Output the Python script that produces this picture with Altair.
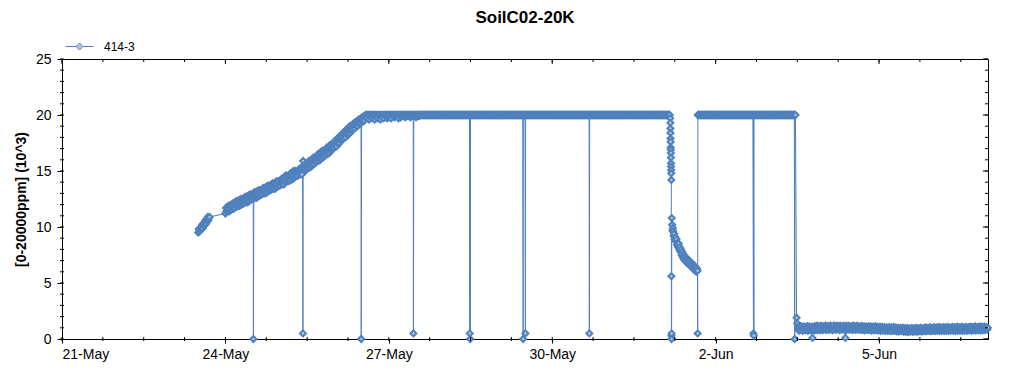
import altair as alt
import pandas as pd

# ---------------- data ----------------
SERIES = "414-3"
STEP = "15min"

# 23-May cluster, 15-min samples from 12:00
A_START = "2023-05-23 12:00"
A_VALUES = [9.5, 9.8, 9.6, 9.9, 9.7, 10.0, 9.8, 10.2, 9.9, 10.3, 10.1, 10.4, 10.2, 10.6,
            10.3, 10.7, 10.5, 10.9, 10.6, 10.8, 10.9]

# rising part, 15-min samples from 24-May 00:00
B_START = "2023-05-24 00:00"
B_VALUES = [
    11.2, 11.7, 11.4, 11.8, 11.4, 11.7, 11.9, 11.4,
    11.9, 11.5, 12.0, 11.6, 11.8, 12.1, 11.6, 12.0,
    11.7, 12.2, 11.9, 12.3, 11.8, 12.1, 12.3, 11.9,
    12.4, 11.9, 12.2, 12.5, 12.0, 12.4, 12.1, 12.5,
    12.1, 12.6, 12.3, 12.7, 12.2, 12.5, 12.7, 12.2,
    12.8, 12.3, 12.6, 12.9, 12.4, 12.8, 12.5, 12.9,
    12.5, 13.0, 12.7, 13.1, 12.6, 12.9, 13.1, 12.6,
    13.2, 12.7, 13.0, 13.3, 12.8, 13.2, 12.9, 13.3,
    12.9, 13.4, 13.1, 13.5, 13.0, 13.3, 13.5, 13.0,
    13.6, 13.1, 13.4, 13.7, 13.2, 13.6, 13.3, 13.7,
    13.3, 13.8, 13.5, 13.9, 13.4, 13.7, 13.9, 13.4,
    14.0, 13.5, 13.8, 14.1, 13.6, 14.0, 13.7, 14.1,
    13.7, 14.2, 13.9, 14.3, 13.8, 14.1, 14.3, 13.8,
    14.5, 14.0, 14.3, 14.6, 14.1, 14.5, 14.2, 14.6,
    14.1, 14.6, 14.3, 14.8, 14.2, 14.6, 14.8, 14.3,
    15.0, 14.4, 14.7, 15.0, 14.5, 14.9, 14.6, 15.0,
    14.6, 15.1, 14.8, 15.2, 14.7, 15.0, 15.2, 14.7,
    15.4, 15.9, 15.1, 15.5, 15.0, 15.4, 15.1, 15.6,
    15.2, 15.7, 15.4, 15.9, 15.3, 15.7, 15.9, 15.4,
    16.0, 15.5, 15.8, 16.2, 15.6, 16.0, 15.8, 16.2,
    15.8, 16.3, 16.0, 16.5, 15.9, 16.3, 16.5, 16.0,
    16.7, 16.1, 16.4, 16.8, 16.2, 16.6, 16.4, 16.8,
    16.4, 16.9, 16.6, 17.1, 16.5, 16.9, 17.1, 16.6,
    17.3, 16.8, 17.0, 17.4, 16.9, 17.3, 17.0, 17.4,
    17.1, 17.6, 17.3, 17.8, 17.2, 17.6, 17.9, 17.4,
    18.0, 17.5, 17.8, 18.2, 17.7, 18.1, 17.8, 18.3,
    17.9, 18.4, 18.1, 18.6, 18.0, 18.5, 18.7, 18.2,
    18.8, 18.3, 18.6, 19.0, 18.4, 18.8, 18.6, 19.1,
    18.7, 19.2, 18.9, 19.3, 18.8, 19.2, 19.4, 19.0,
    19.4, 19.0, 19.3, 19.6, 19.2, 19.5, 19.3, 19.7,
    19.5, 19.8, 19.4, 19.7, 19.9, 19.5, 19.8, 20.0,
]

# first plateau, 15-min samples from 26-May 14:00 to 1-Jun 03:45
C_START = "2023-05-26 14:00"
C_VALUES = [
    20, 19.7, 20, 19.9, 20, 19.6, 20, 20, 19.8, 20, 19.7, 20, 20, 19.9, 20, 19.6,
    20, 20, 19.8, 20, 19.7, 20, 20, 19.9, 20, 19.6, 20, 20, 19.8, 20, 20, 19.7,
    20, 20, 19.9, 20, 20, 19.7, 20, 20, 19.8, 20, 20, 20, 19.7, 20, 20, 19.9,
    20, 20, 19.8, 20, 20, 20, 19.9, 20, 20, 19.7, 20, 20, 20, 19.8, 20, 20,
    20, 19.9, 20, 20, 20, 19.8, 20, 20, 20, 20, 19.9, 20, 20, 20, 19.8, 20,
    20, 20, 20, 19.9, 20, 20, 20, 20, 19.8, 20, 20, 20, 20, 19.9, 20, 20,
    20, 20, 20, 20, 20, 20, 20, 20, 20, 20, 20, 20, 20, 20, 20, 20,
    20, 20, 20, 20, 20, 20, 20, 20, 20, 20, 20, 20, 20, 20, 20, 20,
    20, 20, 20, 20, 20, 20, 20, 20, 20, 20, 20, 20, 20, 20, 20, 20,
    20, 20, 20, 20, 20, 20, 20, 20, 20, 20, 20, 20, 20, 20, 20, 20,
    20, 20, 20, 20, 20, 20, 20, 20, 20, 20, 20, 20, 20, 20, 20, 20,
    20, 20, 20, 20, 20, 20, 20, 20, 20, 20, 20, 20, 20, 20, 20, 20,
    20, 20, 20, 20, 20, 20, 20, 20, 20, 20, 20, 20, 20, 20, 20, 20,
    20, 20, 20, 20, 20, 20, 20, 20, 20, 20, 20, 20, 20, 20, 20, 20,
    20, 20, 20, 20, 20, 20, 20, 20, 20, 20, 20, 20, 20, 20, 20, 20,
    20, 20, 20, 20, 20, 20, 20, 20, 20, 20, 20, 20, 20, 20, 20, 20,
    20, 20, 20, 20, 20, 20, 20, 20, 20, 20, 20, 20, 20, 20, 20, 20,
    20, 20, 20, 20, 20, 20, 20, 20, 20, 20, 20, 20, 20, 20, 20, 20,
    20, 20, 20, 20, 20, 20, 20, 20, 20, 20, 20, 20, 20, 20, 20, 20,
    20, 20, 20, 20, 20, 20, 20, 20, 20, 20, 20, 20, 20, 20, 20, 20,
    20, 20, 20, 20, 20, 20, 20, 20, 20, 20, 20, 20, 20, 20, 20, 20,
    20, 20, 20, 20, 20, 20, 20, 20, 20, 20, 20, 20, 20, 20, 20, 20,
    20, 20, 20, 20, 20, 20, 20, 20, 20, 20, 20, 20, 20, 20, 20, 20,
    20, 20, 20, 20, 20, 20, 20, 20, 20, 20, 20, 20, 20, 20, 20, 20,
    20, 20, 20, 20, 20, 20, 20, 20, 20, 20, 20, 20, 20, 20, 20, 20,
    20, 20, 20, 20, 20, 20, 20, 20, 20, 20, 20, 20, 20, 20, 20, 20,
    20, 20, 20, 20, 20, 20, 20, 20, 20, 20, 20, 20, 20, 20, 20, 20,
    20, 20, 20, 20, 20, 20, 20, 20, 20, 20, 20, 20, 20, 20, 20, 20,
    20, 20, 20, 20, 20, 20, 20, 20, 20, 20, 20, 20, 20, 20, 20, 20,
    20, 20, 20, 20, 20, 20, 20, 20, 20, 20, 20, 20, 20, 20, 20, 20,
    20, 20, 20, 20, 20, 20, 20, 20, 20, 20, 20, 20, 20, 20, 20, 20,
    20, 20, 20, 20, 20, 20, 20, 20, 20, 20, 20, 20, 20, 20, 20, 20,
    20, 20, 20, 20, 20, 20, 20, 20, 20, 20, 20, 20, 20, 20, 20, 20,
    20, 20, 20, 20, 20, 20, 20, 20,
]

# collapse on 1-Jun: fast drop (irregular samples)
E1_TIMES = [
    "2023-06-01 04:00", "2023-06-01 04:02", "2023-06-01 04:04", "2023-06-01 04:06",
    "2023-06-01 04:08", "2023-06-01 04:10", "2023-06-01 04:12", "2023-06-01 04:14",
    "2023-06-01 04:16", "2023-06-01 04:18", "2023-06-01 04:20", "2023-06-01 04:22",
    "2023-06-01 04:24", "2023-06-01 04:26", "2023-06-01 04:28", "2023-06-01 04:30",
    "2023-06-01 04:32", "2023-06-01 04:34", "2023-06-01 04:36", "2023-06-01 04:40",
    "2023-06-01 04:50", "2023-06-01 05:00", "2023-06-01 05:08",
]
E1_VALUES = [
    19.7, 19.3, 18.8, 18.4, 17.9, 17.6, 17.1, 16.9,
    16.6, 16.2, 15.7, 15.4, 15.1, 14.8, 14.2, 5.6,
    0.3, 0.0, 0.5, 10.8, 10.2, 9.7, 9.9,
]
# slow decline, 15-min samples from 05:15
E2_START = "2023-06-01 05:15"
E2_VALUES = [
    9.6, 9.2, 9.4, 8.9, 9.1, 8.7, 8.9, 8.4,
    8.6, 8.2, 8.5, 8.0, 8.2, 7.8, 8.0, 7.5,
    7.8, 7.3, 7.6, 7.1, 7.4, 7.0, 7.3, 6.9,
    7.2, 6.8, 7.1, 6.7, 7.0, 6.6, 6.9, 6.5,
    6.8, 6.4, 6.7, 6.3, 6.6, 6.2, 6.5, 6.1,
    6.4, 6.0, 6.3, 6.1,
]

# second plateau, 15-min samples from 1-Jun 16:10 to 3-Jun 11:10
D_START = "2023-06-01 16:10"
D_VALUES = [
    20, 20, 20, 20, 20, 20, 20, 20, 20, 20, 20, 20, 20, 20, 20, 20,
    20, 20, 20, 20, 20, 20, 20, 20, 20, 20, 20, 20, 20, 20, 20, 20,
    20, 20, 20, 20, 20, 20, 20, 20, 20, 20, 20, 20, 20, 20, 20, 20,
    20, 20, 20, 20, 20, 20, 20, 20, 20, 20, 20, 20, 20, 20, 20, 20,
    20, 20, 20, 20, 20, 20, 20, 20, 20, 20, 20, 20, 20, 20, 20, 20,
    20, 20, 20, 20, 20, 20, 20, 20, 20, 20, 20, 20, 20, 20, 20, 20,
    20, 20, 20, 20, 20, 20, 20, 20, 20, 20, 20, 20, 20, 20, 20, 20,
    20, 20, 20, 20, 20, 20, 20, 20, 20, 20, 20, 20, 20, 20, 20, 20,
    20, 20, 20, 20, 20, 20, 20, 20, 20, 20, 20, 20, 20, 20, 20, 20,
    20, 20, 20, 20, 20, 20, 20, 20, 20, 20, 20, 20, 20, 20, 20, 20,
    20, 20, 20, 20, 20, 20, 20, 20, 20, 20, 20, 20, 20,
]

# low tail, 15-min samples from 3-Jun 11:40
F_START = "2023-06-03 11:40"
F_VALUES = [
    1.9, 1.4, 1.1, 0.8, 1.0, 0.75, 1.1, 0.9, 1.15, 0.85, 1.05, 0.72, 0.95, 1.12, 0.82, 1.0,
    0.78, 1.08, 0.9, 1.15, 0.74, 1.0, 0.88, 1.12, 0.8, 1.05, 0.95, 0.73, 1.1, 0.86, 1.0, 0.77,
    1.15, 0.82, 1.05, 0.9, 1.2, 0.78, 1.0, 1.12, 0.85, 1.08, 0.8, 1.18, 0.92, 1.02, 0.8, 1.14,
    0.86, 1.1, 0.95, 1.2, 0.8, 1.05, 0.9, 1.16, 0.82, 1.0, 1.12, 0.84, 1.2, 0.92, 1.05, 0.8,
    1.1, 0.85, 1.22, 0.95, 1.05, 0.82, 1.15, 0.9, 1.2, 0.86, 1.0, 1.1, 0.8, 1.18, 0.93, 1.06,
    0.84, 1.12, 0.95, 1.2, 0.82, 1.04, 0.9, 1.16, 0.8, 1.08, 0.92, 1.18, 0.85, 1.0, 1.1, 0.83,
    1.15, 0.9, 1.05, 0.8, 1.2, 0.88, 1.02, 1.14, 0.82, 1.06, 0.93, 1.18, 0.84, 1.0, 0.9, 1.12,
    0.82, 1.08, 0.92, 1.16, 0.8, 1.02, 0.88, 1.14, 0.78, 1.05, 0.95, 1.1, 0.82, 1.0, 0.9, 1.15,
    0.8, 1.05, 0.9, 1.12, 0.76, 1.0, 0.86, 1.1, 0.78, 1.02, 0.92, 1.14, 0.8, 0.96, 0.85, 1.08,
    0.75, 1.02, 0.88, 1.1, 0.74, 0.98, 0.84, 1.08, 0.76, 0.96, 0.9, 1.06, 0.72, 0.94, 0.82, 1.04,
    0.74, 0.98, 0.84, 1.06, 0.72, 0.95, 0.8, 1.04, 0.7, 0.92, 0.86, 1.08, 0.74, 0.9, 0.8, 1.02,
    0.68, 0.94, 0.8, 1.0, 0.66, 0.9, 0.76, 0.98, 0.7, 0.88, 0.82, 1.02, 0.66, 0.86, 0.74, 0.96,
    0.64, 0.9, 0.76, 0.98, 0.62, 0.86, 0.72, 0.95, 0.66, 0.84, 0.78, 1.0, 0.64, 0.82, 0.7, 0.94,
    0.66, 0.92, 0.78, 1.0, 0.64, 0.88, 0.74, 0.96, 0.68, 0.86, 0.8, 1.02, 0.66, 0.85, 0.72, 0.95,
    0.7, 0.96, 0.82, 1.04, 0.68, 0.9, 0.78, 1.0, 0.72, 0.88, 0.84, 1.06, 0.7, 0.9, 0.76, 0.98,
    0.72, 0.98, 0.85, 1.06, 0.7, 0.94, 0.8, 1.04, 0.74, 0.92, 0.86, 1.08, 0.72, 0.95, 0.8, 1.02,
    0.74, 1.0, 0.84, 1.05, 0.7, 0.92, 0.82, 1.06, 0.72, 0.94, 0.88, 1.08, 0.74, 0.96, 0.8, 1.0,
    0.76, 1.02, 0.86, 1.08, 0.72, 0.95, 0.84, 1.06, 0.74, 0.96, 0.9, 1.1, 0.76, 0.98, 0.82, 1.04,
    0.74, 1.0, 0.88, 1.1, 0.72, 0.96, 0.82, 1.05, 0.76, 0.94, 0.9, 1.08, 0.74, 1.0, 0.84, 1.06,
    0.78, 1.04, 0.88, 1.1, 0.74, 0.98, 0.86, 1.08, 0.78, 0.96, 0.92, 1.12, 0.76, 1.0, 0.85, 1.06,
    0.8, 1.05, 0.9, 1.12, 0.76, 1.0, 0.86, 1.1, 0.78, 0.98, 0.94, 1.1, 0.8, 1.02, 0.88, 1.05,
    0.84, 1.0,
]

# isolated drop-outs
SPIKE_TIMES = [
    "2023-05-24 12:20", "2023-05-25 10:10", "2023-05-26 11:50", "2023-05-27 10:50",
    "2023-05-28 11:40", "2023-05-28 11:50", "2023-05-29 11:10", "2023-05-29 12:10",
    "2023-05-30 16:20", "2023-06-01 16:05", "2023-06-02 16:40", "2023-06-02 16:50",
    "2023-06-03 10:50", "2023-06-03 18:40", "2023-06-04 09:10",
]
SPIKE_VALUES = [0.0, 0.5, 0.0, 0.5, 0.5, 0.0, 0.0, 0.5, 0.5, 0.5, 0.5, 0.3, 0.0, 0.1, 0.1]

# axis ticks
X_MAJOR_TICKS = ["2023-05-21", "2023-05-24", "2023-05-27", "2023-05-30", "2023-06-02", "2023-06-05"]
X_START, X_END = "2023-05-21 00:00", "2023-06-07 00:00"
Y_MAJOR_TICKS = [0, 5, 10, 15, 20, 25]
Y_MINOR_TICKS = list(range(0, 26))

LINE_COLOR = "#4f81bd"
FILL_COLOR = "#b3c6db"
FONT = "Liberation Sans"
W, H = 926, 280

# ---------------- build table ----------------
def seg(start, values):
    return pd.DataFrame({"t": pd.date_range(start, periods=len(values), freq=STEP), "v": values})

parts = [
    seg(A_START, A_VALUES), seg(B_START, B_VALUES), seg(C_START, C_VALUES),
    pd.DataFrame({"t": pd.to_datetime(E1_TIMES), "v": E1_VALUES}),
    seg(E2_START, E2_VALUES), seg(D_START, D_VALUES), seg(F_START, F_VALUES),
    pd.DataFrame({"t": pd.to_datetime(SPIKE_TIMES), "v": SPIKE_VALUES}),
]
df = pd.concat(parts).sort_values("t").reset_index(drop=True)
df["v"] = df["v"].astype(float)
df["series"] = SERIES
df["t"] = df["t"].dt.strftime("%Y-%m-%dT%H:%M:%S")

minor_x = pd.DataFrame({"t": pd.date_range(X_START, X_END, freq="18h").strftime("%Y-%m-%dT%H:%M:%S")})
major_x = pd.DataFrame({"t": pd.to_datetime(X_MAJOR_TICKS).strftime("%Y-%m-%dT%H:%M:%S")})
minor_y = pd.DataFrame({"v": Y_MINOR_TICKS})
major_y = pd.DataFrame({"v": Y_MAJOR_TICKS})

def dt(s):
    d = pd.Timestamp(s)
    return alt.DateTime(year=d.year, month=d.month, date=d.day, hours=d.hour)

x_scale = alt.Scale(domain=[dt(X_START), dt(X_END)])
y_scale = alt.Scale(domain=[0, 25], nice=False)

x_enc = alt.X(
    "t:T", scale=x_scale,
    axis=alt.Axis(values=[dt(s) for s in X_MAJOR_TICKS], format="%-d-%b", title=None,
                  tickSize=4, labelPadding=4, labelFontSize=14, grid=False),
)
y_enc = alt.Y(
    "v:Q", scale=y_scale,
    axis=alt.Axis(values=Y_MAJOR_TICKS, title="[0-20000ppm] (10^3)", titleFontSize=14,
                  titleFontWeight="bold", titlePadding=7, tickSize=5, labelPadding=6,
                  labelFontSize=14, grid=False),
)

LEGEND_SYMBOL = "M-1,0L-0.25,0M0.25,0L1,0M0,-0.25L0.25,0L0,0.25L-0.25,0Z"

line = alt.Chart(df).mark_line(strokeWidth=1).encode(
    x=x_enc, y=y_enc,
    color=alt.Color("series:N", scale=alt.Scale(range=[LINE_COLOR]),
                    legend=alt.Legend(title=None, orient="none", legendX=3, legendY=-27,
                                      symbolType=LEGEND_SYMBOL, symbolSize=784,
                                      symbolStrokeWidth=1, symbolFillColor=FILL_COLOR,
                                      labelFontSize=12, labelOffset=10, padding=0)),
)
points = alt.Chart(df).mark_point(shape="diamond", size=36, filled=False, fill=FILL_COLOR,
                                  stroke=LINE_COLOR, strokeWidth=2, opacity=1).encode(
    x="t:T", y="v:Q",
)

bottom_minor = alt.Chart(minor_x).mark_rule(color="black").encode(
    x="t:T", y=alt.value(H - 2), y2=alt.value(H + 2))
top_minor = alt.Chart(minor_x).mark_rule(color="black").encode(
    x="t:T", y=alt.value(0), y2=alt.value(3))
top_major = alt.Chart(major_x).mark_rule(color="black").encode(
    x="t:T", y=alt.value(0), y2=alt.value(5))
left_minor = alt.Chart(minor_y).mark_rule(color="black").encode(
    y="v:Q", x=alt.value(-2), x2=alt.value(2))
right_minor = alt.Chart(minor_y).mark_rule(color="black").encode(
    y="v:Q", x=alt.value(W - 3), x2=alt.value(W))
right_major = alt.Chart(major_y).mark_rule(color="black").encode(
    y="v:Q", x=alt.value(W - 5), x2=alt.value(W))

chart = alt.layer(
    line, points, bottom_minor, top_minor, top_major, left_minor, right_minor, right_major
).properties(
    width=W, height=H,
    title=alt.TitleParams("SoilC02-20K", fontSize=17, fontWeight="bold", font=FONT,
                          anchor="middle", color="black", offset=5),
    autosize=alt.AutoSizeParams(type="none"),
    padding={"left": 54, "top": 51, "right": 28, "bottom": 25},
).configure_view(
    stroke="black", strokeWidth=1
).configure_axis(
    labelFont=FONT, titleFont=FONT, labelColor="black", titleColor="black",
    domainColor="black", tickColor="black",
).configure_legend(
    labelFont=FONT, labelColor="black",
)

chart.save("out.html", embed_options={"renderer": "svg", "actions": False})
